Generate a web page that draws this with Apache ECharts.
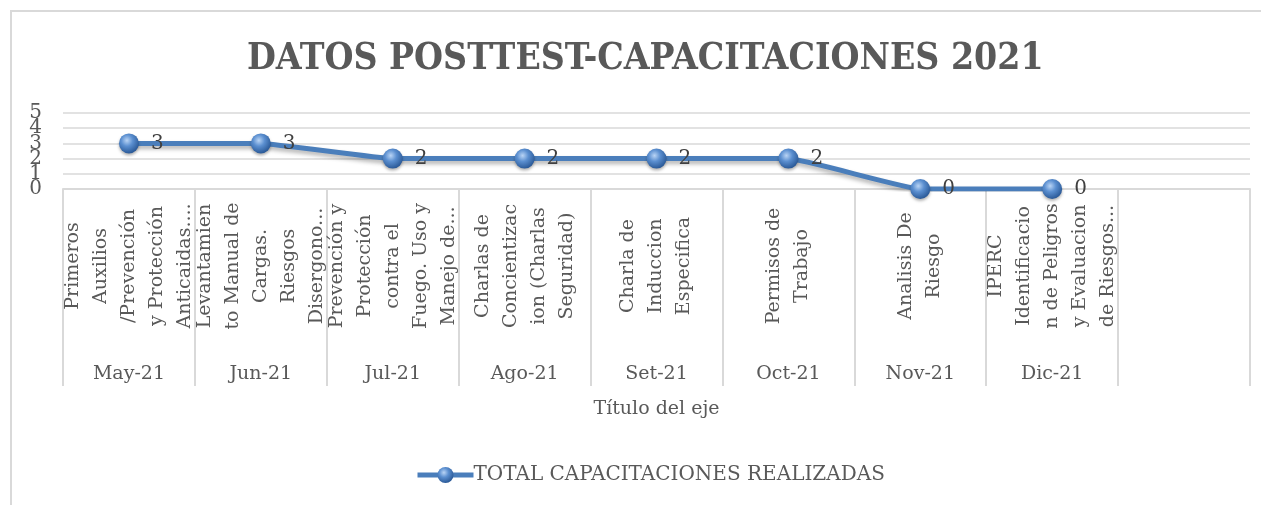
<!DOCTYPE html>
<html>
<head>
<meta charset="utf-8">
<script src="https://cdn.jsdelivr.net/npm/echarts@6/dist/echarts.min.js"></script>
<style>
  html, body { margin: 0; padding: 0; background: #fff; }
  #chart { width: 1261px; height: 505px; }
</style>
</head>
<body>
<div id="chart"></div>
<script>
const months = ['May-21', 'Jun-21', 'Jul-21', 'Ago-21', 'Set-21', 'Oct-21', 'Nov-21', 'Dic-21', ''];
const topics = [
  'Primeros\nAuxilios\n/Prevención\ny Protección\nAnticaidas....',
  'Levantamien\nto Manual de\nCargas.\nRiesgos\nDisergono...',
  'Prevención y\nProtección\ncontra el\nFuego. Uso y\nManejo de...',
  'Charlas de\nConcientizac\nion (Charlas\nSeguridad)',
  'Charla de\nInduccion\nEspecifica',
  'Permisos de\nTrabajo',
  'Analisis De\nRiesgo',
  'IPERC\nIdentificacio\nn de Peligros\ny Evaluacion\nde Riesgos...',
  ''
];
const totals = [3, 3, 2, 2, 2, 2, 0, 0];
const seriesName = 'TOTAL CAPACITACIONES REALIZADAS';

const font = "'DejaVu Serif', serif";
const grey = '#595959';
const lineGrey = '#d9d9d9';
const blue = '#4a7ebb';

const sphere = {
  type: 'radial', x: 0.4, y: 0.35, r: 0.65,
  colorStops: [
    { offset: 0, color: '#b9d4f5' },
    { offset: 0.45, color: '#5b8fd0' },
    { offset: 1, color: '#2b5a98' }
  ]
};

// the Excel tick labels overlap; split them over two aligned axes so none is dropped
function valueAxis(keepOdd, showGrid) {
  return {
    type: 'value',
    position: 'left',
    min: 0,
    max: 5,
    interval: 1,
    axisLine: { show: false },
    axisTick: { show: false },
    splitLine: { show: showGrid, lineStyle: { color: lineGrey, width: 1.5 } },
    axisLabel: {
      fontSize: 20, color: grey, margin: 21, fontFamily: font,
      formatter: (v) => (v % 2 === 1) === keepOdd ? String(v) : ''
    }
  };
}

const chart = echarts.init(document.getElementById('chart'));
chart.setOption({
  animation: false,
  textStyle: { fontFamily: font },
  title: {
    text: 'DATOS POSTTEST-CAPACITACIONES 2021',
    left: 242,
    top: 36,
    textStyle: { fontFamily: "'DejaVu Serif Condensed', 'DejaVu Serif', serif", fontSize: 37, fontWeight: 'bold', color: grey }
  },
  graphic: [{
    type: 'rect',
    shape: { x: 11, y: 11, width: 1400, height: 600 },
    style: { fill: null, stroke: lineGrey, lineWidth: 2 },
    silent: true
  }],
  legend: {
    bottom: 15,
    left: 410,
    itemWidth: 56,
    itemHeight: 20,
    itemGap: 0,
    lineStyle: { width: 5, color: blue },
    textStyle: { fontFamily: font, fontSize: 20, color: grey, padding: [0, 0, 0, -5] },
    data: [seriesName]
  },
  grid: { left: 63, right: 11, top: 113, bottom: 316 },
  xAxis: [
    {
      type: 'category',
      data: topics,
      boundaryGap: true,
      axisLine: { lineStyle: { color: lineGrey, width: 2 } },
      axisTick: { show: true, interval: 0, length: 197, lineStyle: { color: lineGrey, width: 2 } },
      axisLabel: {
        interval: 0,
        rotate: 90,
        align: 'center',
        verticalAlign: 'middle',
        margin: 77,
        fontSize: 19,
        lineHeight: 28,
        color: grey,
        fontFamily: font
      },
      name: 'Título del eje',
      nameLocation: 'middle',
      nameGap: 211,
      nameTextStyle: { fontSize: 19, color: grey, fontFamily: font }
    },
    {
      type: 'category',
      data: months,
      position: 'bottom',
      boundaryGap: true,
      axisLine: { show: false },
      axisTick: { show: false },
      axisLabel: { interval: 0, margin: 176, fontSize: 19, color: grey, fontFamily: font }
    }
  ],
  yAxis: [valueAxis(false, true), valueAxis(true, false)],
  series: [{
    name: seriesName,
    type: 'line',
    data: totals,
    smooth: 0.1,
    symbol: 'circle',
    symbolSize: 20,
    lineStyle: {
      color: blue, width: 5,
      shadowColor: 'rgba(0,0,0,0.3)', shadowBlur: 4, shadowOffsetY: 3
    },
    itemStyle: {
      color: sphere,
      shadowColor: 'rgba(0,0,0,0.3)', shadowBlur: 3, shadowOffsetY: 2
    },
    label: {
      show: true,
      position: 'right',
      distance: 12,
      fontSize: 20,
      color: '#404040',
      fontFamily: font
    }
  }]
});
</script>
</body>
</html>
